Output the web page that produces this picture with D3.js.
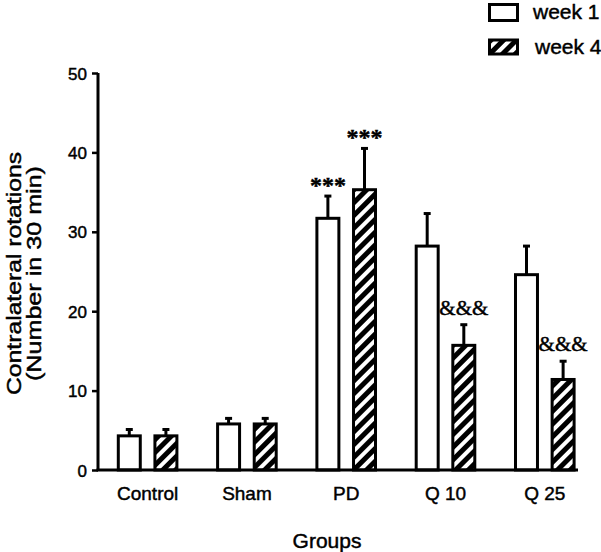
<!DOCTYPE html>
<html>
<head>
<meta charset="utf-8">
<script src="https://cdn.jsdelivr.net/npm/d3@7"></script>
<style>
  html, body { margin: 0; padding: 0; background: #fff; }
  svg { display: block; }
  text { font-family: "Liberation Sans", Arial, sans-serif; fill: #000; stroke: #000; stroke-width: 0.45px; }
</style>
</head>
<body>
<svg id="chart" width="601" height="552"></svg>
<script>
const groups = ["Control", "Sham", "PD", "Q 10", "Q 25"];
const seriesNames = ["week 1", "week 4"];
const week1 = [4.3, 5.8, 31.7, 28.2, 24.6];
const week4 = [4.3, 5.8, 35.3, 15.7, 11.4];
const week1Err = [0.8, 0.7, 2.8, 4.1, 3.6];
const week4Err = [0.8, 0.7, 5.2, 2.6, 2.3];
const week1Marks = ["", "", "***", "", ""];
const week4Marks = ["", "", "***", "&&&", "&&&"];
const yTicks = [0, 10, 20, 30, 40, 50];

const svg = d3.select("#chart");

// hatch pattern
const defs = svg.append("defs");
const pat = defs.append("pattern")
  .attr("id", "hatch").attr("patternUnits", "userSpaceOnUse")
  .attr("width", 9).attr("height", 9)
  .attr("patternTransform", "rotate(45)");
pat.append("rect").attr("width", 9).attr("height", 9).attr("fill", "#000");
pat.append("rect").attr("x", 0).attr("y", 0).attr("width", 4).attr("height", 9).attr("fill", "#fff");

const x0 = d3.scaleBand().domain(groups).range([98, 594.5]).paddingInner(0).paddingOuter(0);
const x1 = d3.scaleBand().domain(seriesNames).range([20.3, 78.9]).paddingInner(0.4).paddingOuter(0);
const y = d3.scaleLinear().domain([0, 50]).range([470, 73]);

const rows = groups.map((g, i) => [
  { g, s: seriesNames[0], v: week1[i], e: week1Err[i], m: week1Marks[i] },
  { g, s: seriesNames[1], v: week4[i], e: week4Err[i], m: week4Marks[i] }
]).flat();

// error bars (up only)
const eb = svg.append("g").attr("stroke", "#000");
eb.selectAll("line.v").data(rows).join("line")
  .attr("x1", d => x0(d.g) + x1(d.s) + x1.bandwidth() / 2)
  .attr("x2", d => x0(d.g) + x1(d.s) + x1.bandwidth() / 2)
  .attr("y1", d => y(d.v))
  .attr("y2", d => y(d.v + d.e))
  .attr("stroke-width", 3);
eb.selectAll("line.c").data(rows).join("line")
  .attr("x1", d => x0(d.g) + x1(d.s) + x1.bandwidth() / 2 - 3.5)
  .attr("x2", d => x0(d.g) + x1(d.s) + x1.bandwidth() / 2 + 3.5)
  .attr("y1", d => y(d.v + d.e))
  .attr("y2", d => y(d.v + d.e))
  .attr("stroke-width", 3);

// bars
svg.append("g").selectAll("rect").data(rows).join("rect")
  .attr("x", d => x0(d.g) + x1(d.s))
  .attr("y", d => y(d.v))
  .attr("width", x1.bandwidth())
  .attr("height", d => y(0) - y(d.v))
  .attr("fill", d => d.s === seriesNames[0] ? "#fff" : "url(#hatch)")
  .attr("stroke", "#000").attr("stroke-width", 3);

// significance marks
svg.append("g").selectAll("text").data(rows.filter(d => d.m)).join("text")
  .attr("x", d => x0(d.g) + x1(d.s) + x1.bandwidth() / 2)
  .attr("y", d => y(d.v + d.e) - (d.m === "***" ? 3 : 10))
  .attr("text-anchor", "middle")
  .style("font-family", "'Liberation Serif', 'Times New Roman', serif")
  .style("font-size", d => d.m === "***" ? "24px" : "21px")
  .style("font-weight", d => d.m === "***" ? "bold" : "normal")
  .text(d => d.m);

// y axis
const yAxis = d3.axisLeft(y).tickValues(yTicks).tickSize(6).tickPadding(5);
const ya = svg.append("g").attr("transform", "translate(98,0)").call(yAxis);
ya.select(".domain").attr("stroke-width", 3).attr("d", `M0,${y(50)}V${y(0)}`);
ya.selectAll(".tick line").attr("stroke-width", 2.5);
ya.selectAll(".tick text").style("font-size", "17px").style("font-family", "'Liberation Sans', Arial, sans-serif").attr("dy", "0.36em");

// x baseline
svg.append("line").attr("x1", 96.5).attr("x2", 578).attr("y1", y(0)).attr("y2", y(0))
  .attr("stroke", "#000").attr("stroke-width", 3);

// category labels
svg.append("g").selectAll("text").data(groups).join("text")
  .attr("x", d => x0(d) + x0.bandwidth() / 2)
  .attr("y", 500)
  .attr("text-anchor", "middle")
  .style("font-size", "19px")
  .text(d => d);

// x title
svg.append("text").attr("x", 327).attr("y", 548).attr("text-anchor", "middle")
  .style("font-size", "21px").text("Groups");

// y title
const yt = svg.append("text").attr("transform", "translate(0,273.5) rotate(-90)").attr("text-anchor", "middle")
  .style("font-size", "21px");
yt.append("tspan").attr("x", 0).attr("y", 21).attr("textLength", 243).attr("lengthAdjust", "spacingAndGlyphs").text("Contralateral rotations");
yt.append("tspan").attr("x", 0).attr("y", 41).attr("textLength", 215).attr("lengthAdjust", "spacingAndGlyphs").text("(Number in 30 min)");

// legend
const legend = svg.append("g");
legend.selectAll("rect").data(seriesNames).join("rect")
  .attr("x", 489.5)
  .attr("y", (d, i) => 4.5 + i * 35.5)
  .attr("width", 28)
  .attr("height", (d, i) => i === 0 ? 16 : 14)
  .attr("fill", (d, i) => i === 0 ? "#fff" : "url(#hatch)")
  .attr("stroke", "#000").attr("stroke-width", 3);
legend.selectAll("text").data(seriesNames).join("text")
  .attr("x", (d, i) => 533 + i * 2)
  .attr("y", (d, i) => 19 + i * 35)
  .style("font-size", "21px")
  .text(d => d);
</script>
</body>
</html>
